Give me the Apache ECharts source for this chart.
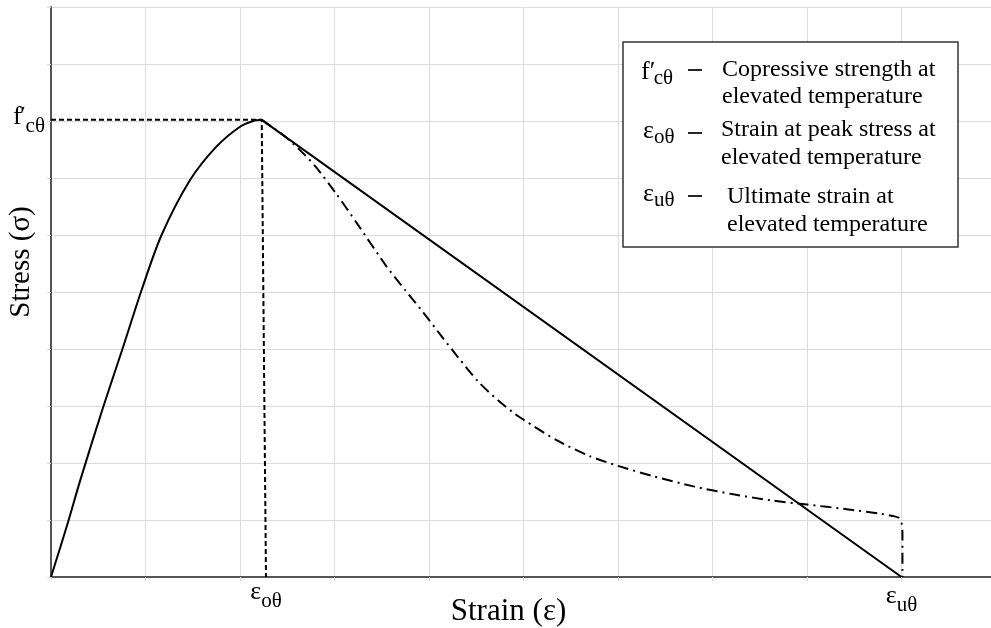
<!DOCTYPE html>
<html><head><meta charset="utf-8">
<script src="https://cdn.jsdelivr.net/npm/echarts@6/dist/echarts.min.js"></script>
<style>html,body{margin:0;padding:0;background:#fff}#c{width:991px;height:628px}</style>
</head><body><div id="c"></div>
<script>
// ---- data (strain, stress) in chart units ----
const ascendingBranch = [[0,0],[0.18,0.96],[0.31,1.70],[0.55,2.97],[0.75,3.97],[0.96,5.04],[1.17,6.0],[1.47,6.96],[1.75,7.55],[2.0,7.9],[2.14,8.0],[2.23,8.02]];
const linearDescending = [[2.23,8.02],[9.0,0]];
const curvedDescending = [[2.23,8.02],[2.46,7.75],[2.64,7.48],[2.8,7.2],[3.02,6.72],[3.24,6.2],[3.55,5.45],[3.75,5.03],[3.94,4.64],[4.13,4.23],[4.31,3.85],[4.52,3.43],[4.73,3.1],[4.91,2.86],[5.0,2.76],[5.35,2.4],[5.7,2.12],[6.0,1.95],[6.37,1.77],[6.8,1.59],[7.22,1.45],[7.64,1.34],[8.0,1.27],[8.42,1.19],[8.77,1.11],[8.91,1.07],[8.97,1.04],[9.0,0.95],[9.01,0.75],[9.01,0]];
const peakGuide = [[0,8.02],[2.23,8.02],[2.275,0]];

const axisTitles = {x:'Strain (ε)', y:'Stress (σ)'};
const pointLabels = [
  {main:'f', prime:'′', sub:'cθ', at:[0,8.02], pos:'left'},
  {main:'ε', prime:'', sub:'oθ', at:[2.275,0], pos:'bottom'},
  {main:'ε', prime:'', sub:'uθ', at:[9.0,0], pos:'bottom'}
];
const legendRows = [
  {main:'f', prime:'′', sub:'cθ', lines:['Copressive strength at','elevated temperature']},
  {main:'ε', prime:'', sub:'oθ', lines:['Strain at peak stress at','elevated temperature']},
  {main:'ε', prime:'', sub:'uθ', lines:['Ultimate strain at','elevated temperature']}
];

// ---- styles ----
const SERIF = "'Liberation Serif','DejaVu Serif',serif";
const chart = echarts.init(document.getElementById('c'));

const labelRich = {
  m:{fontFamily:SERIF,fontSize:26,color:'#000',lineHeight:33,verticalAlign:'top'},
  p:{fontFamily:SERIF,fontSize:26,color:'#000',lineHeight:33,verticalAlign:'top',width:4},
  s:{fontFamily:SERIF,fontSize:21,color:'#000',lineHeight:33,verticalAlign:'bottom'}
};
const legRich = {
  m:{fontFamily:SERIF,fontSize:26,color:'#000',lineHeight:30,verticalAlign:'top'},
  p:{fontFamily:SERIF,fontSize:26,color:'#000',lineHeight:30,verticalAlign:'top',width:4},
  s:{fontFamily:SERIF,fontSize:21,color:'#000',lineHeight:30,verticalAlign:'bottom'}
};
function richText(r){ return '{m|'+r.main+'}'+(r.prime?'{p|'+r.prime+'}':'')+'{s|'+r.sub+'}'; }
const labelOffsets = [[0,1],[0,2],[0,6]];
const labelDistance = [6,0,0];

// legend layout
const symTop=[59,118,181], symX=[641,643,643], dashY=[70,133,196];
const txtX=[722,721,727], lineY=[[70,97],[130,158],[197,225]];
const legendGraphics=[{type:'rect',shape:{x:623,y:42,width:335,height:205},style:{fill:'#fff',stroke:'#333',lineWidth:1.5},z:100}];
legendRows.forEach((r,i)=>{
  legendGraphics.push({type:'text',x:symX[i],y:symTop[i],z:101,style:{text:richText(r),rich:legRich,align:'left',verticalAlign:'top'}});
  legendGraphics.push({type:'line',z:101,shape:{x1:688,y1:dashY[i],x2:702,y2:dashY[i]},style:{stroke:'#000',lineWidth:1.7}});
  r.lines.forEach((t,j)=>{
    legendGraphics.push({type:'text',x:txtX[i],y:lineY[i][j],z:101,style:{text:t,font:'24px '+SERIF,fill:'#000',align:'left',verticalAlign:'middle'}});
  });
});

const gridColor='#dcdcdc', axisColor='#555';
chart.setOption({
  animation:false,
  grid:{left:51,top:7,width:945,height:570,containLabel:false,outerBoundsMode:'none'},
  xAxis:{type:'value',min:0,max:10,interval:1,
    name:axisTitles.x,nameLocation:'middle',nameGap:19,
    nameTextStyle:{fontFamily:SERIF,fontSize:31,color:'#000',padding:[0,30,0,0]},
    axisLine:{show:true,onZero:false,lineStyle:{color:axisColor,width:2}},
    axisTick:{show:true,length:4,lineStyle:{color:gridColor}},
    axisLabel:{show:false},
    splitLine:{show:true,lineStyle:{color:gridColor,width:1}}},
  yAxis:{type:'value',min:0,max:10,interval:1,
    name:axisTitles.y,nameLocation:'middle',nameGap:15,nameRotate:90,
    nameTextStyle:{fontFamily:SERIF,fontSize:29,color:'#000',padding:[0,0,0,60]},
    axisLine:{show:true,onZero:false,lineStyle:{color:axisColor,width:2}},
    axisTick:{show:true,length:4,lineStyle:{color:gridColor}},
    axisLabel:{show:false},
    splitLine:{show:true,lineStyle:{color:gridColor,width:1}}},
  series:[
    {type:'line',data:peakGuide,symbol:'none',z:3,lineStyle:{color:'#000',width:2,type:[5,3]}},
    {type:'line',data:ascendingBranch,smooth:0.3,symbol:'none',z:4,lineStyle:{color:'#000',width:2}},
    {type:'line',data:linearDescending,symbol:'none',z:4,lineStyle:{color:'#000',width:2}},
    {type:'line',data:curvedDescending,smooth:0.25,symbol:'none',z:4,lineStyle:{color:'#000',width:2,type:[11,5,2,5]}},
    {type:'scatter',symbolSize:0,clip:false,silent:true,z:5,itemStyle:{opacity:1,color:'#000'},
      data:pointLabels.map((p,i)=>({value:p.at,label:{show:true,opacity:1,position:p.pos,
        distance:labelDistance[i], offset:labelOffsets[i],
        formatter:richText(p),rich:labelRich}}))}
  ],
  graphic:legendGraphics
});
</script></body></html>
